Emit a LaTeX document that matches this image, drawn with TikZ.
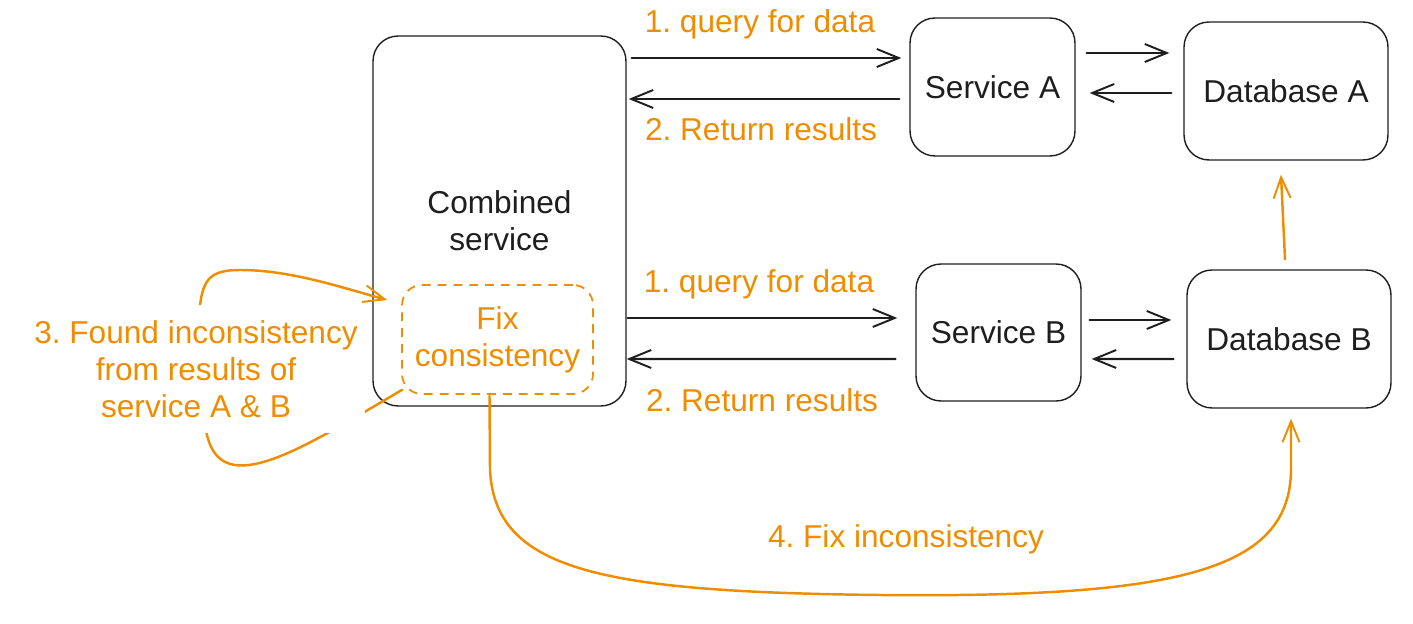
\documentclass[tikz,border=0pt]{standalone}
\usepackage{fontspec}
\setmainfont{Liberation Sans}
\usetikzlibrary{arrows.meta,calc}
\definecolor{exorange}{HTML}{F08C00}
\definecolor{exblack}{HTML}{1E1E1E}
\frenchspacing
\tikzset{
  box/.style={draw=exblack, line width=0.8pt, rounded corners=0.5cm, text=exblack,
    font=\fontsize{18}{21}\selectfont, align=center, inner sep=0pt},
  fixbox/.style={draw=exorange, dashed, dash pattern=on 5pt off 4pt, line width=1pt,
    rounded corners=0.4cm, text=exorange, font=\fontsize{18}{21}\selectfont, align=center, inner sep=0pt},
  lbl/.style={text=exorange, font=\fontsize{18}{21}\selectfont, align=center, inner sep=0pt},
  arr/.style={draw=exblack, line width=1.4pt, line cap=round,
    -{Straight Barb[length=0.44cm,width=0.36cm,line width=1.1pt]}},
  oarr/.style={draw=exorange, line width=1.4pt, line cap=round,
    -{Straight Barb[length=0.42cm,width=0.34cm,line width=1.1pt]}},
}
\begin{document}
\frenchspacing
\begin{tikzpicture}[x=0.02cm,y=-0.02cm]
\useasboundingbox (0,0) rectangle (1413,624);

% boxes
\node[box, minimum width=5.06cm, minimum height=7.4cm] (cs) at (499.5,221) {Combined\\service};
\node[box, minimum width=3.3cm, minimum height=2.76cm] (sa) at (992.5,87) {Service A};
\node[box, minimum width=4.08cm, minimum height=2.76cm] (da) at (1286,91) {Database A};
\node[box, minimum width=3.3cm, minimum height=2.74cm] (sb) at (998.5,332.5) {Service B};
\node[box, minimum width=4.08cm, minimum height=2.76cm] (db) at (1289,339) {Database B};
\node[fixbox, minimum width=3.82cm, minimum height=2.18cm] (fix) at (497.5,339.5) {Fix\\consistency};

% black arrows, top row
\draw[arr] ($(cs.east)+(5,-163)$) -- ($(sa.west)+(-8,-29)$);
\draw[arr] ($(sa.west)+(-10,12)$) -- ($(cs.east)+(2,-122)$);
\draw[arr] ($(sa.east)+(11,-34)$) -- ($(da.west)+(-14,-38)$);
\draw[arr] ($(da.west)+(-12,2)$) -- ($(sa.east)+(14,6)$);
% black arrows, bottom row
\draw[arr] ($(cs.east)+(1,97)$) -- ($(sb.west)+(-18,-14.5)$);
\draw[arr] ($(sb.west)+(-20,26.5)$) -- ($(cs.east)+(0,138)$);
\draw[arr] ($(sb.east)+(8,-12.5)$) -- ($(db.west)+(-15,-19)$);
\draw[arr] ($(db.west)+(-13,20)$) -- ($(sb.east)+(10,26.5)$);

% arrow labels
\node[lbl] (q1) at (760,24) {1. query for data};
\node[lbl] (r1) at (761,129) {2. Return results};
\node[lbl] (q2) at (759,284) {1. query for data};
\node[lbl] (r2) at (762,400) {2. Return results};

% orange arrows
\draw[oarr] ($(db.north)+(-4,-10)$) -- ($(da.south)+(-5,14)$);
\draw[oarr] ($(fix.south)+(-8,1)$) -- (490,470)
  .. controls (495,570) and (600,592) .. (880,595)
  .. controls (1180,598) and (1290,570) .. (1291,470)
  -- ($(db.south)+(2,10)$);
\node[lbl] (l4) at (906,539) {4. Fix inconsistency};

% self loop
\draw[oarr] ($(fix.south west)+(1,-5)$)
  .. controls (330,432) and (270,470) .. (235,465)
  .. controls (215,462) and (208,445) .. (205,425)
  -- (200,306)
  .. controls (203,278) and (212,270) .. (240,270)
  .. controls (290,270) and (340,287) .. ($(fix.west)+(-14,-39.5)$);
\node[lbl, fill=white, inner xsep=0.14cm, inner ysep=0.3cm] (l3) at (196,369)
  {3. Found inconsistency\\from results of\\service A \& B};
\end{tikzpicture}
\end{document}
